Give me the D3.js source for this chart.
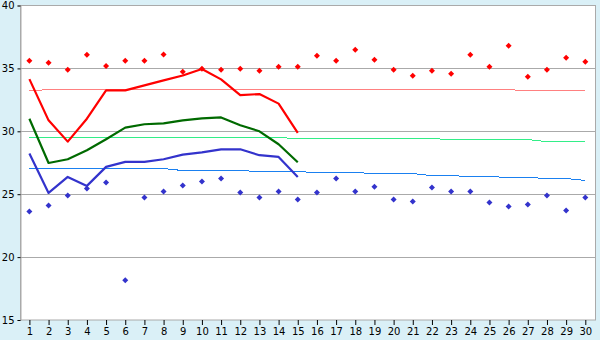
<!DOCTYPE html>
<html>
<head>
<meta charset="utf-8">
<script src="https://cdn.jsdelivr.net/npm/d3@7"></script>
<style>
  body { margin: 0; background: #daf0f7; }
  svg { display: block; }
  .tick text { font-family: "DejaVu Sans", Verdana, sans-serif; font-size: 10px; fill: #000; }
</style>
</head>
<body>
<svg id="chart" width="600" height="340"></svg>
<script>
const days = d3.range(1, 31);
const yTicks = [15, 20, 25, 30, 35, 40];

// daily maxima / minima (markers)
const maxPoints = [35.61, 35.45, 34.9, 36.09, 35.2, 35.6, 35.6, 36.1, 34.74, 34.98,
                   34.9, 34.98, 34.82, 35.13, 35.13, 36.0, 35.6, 36.48, 35.69, 34.9,
                   34.42, 34.82, 34.58, 36.09, 35.13, 36.8, 34.34, 34.9, 35.85, 35.53];
const minPoints = [23.63, 24.1, 24.9, 25.45, 25.93, 18.15, 24.74, 25.21, 25.69, 26.0,
                   26.25, 25.13, 24.74, 25.21, 24.58, 25.13, 26.25, 25.21, 25.6, 24.58,
                   24.42, 25.53, 25.21, 25.21, 24.34, 24.02, 24.18, 24.9, 23.71, 24.74];

// this month's lines (days 1-15)
const maxLine = [34.15, 30.87, 29.18, 31.0, 33.25, 33.25, 33.65, 34.05, 34.44, 34.95,
                 34.13, 32.88, 32.96, 32.2, 29.87];
const meanLine = [31.0, 27.48, 27.78, 28.49, 29.37, 30.29, 30.56, 30.63, 30.87, 31.03,
                  31.1, 30.48, 30.0, 28.97, 27.54];
const minLine = [28.23, 25.1, 26.37, 25.66, 27.17, 27.57, 27.57, 27.78, 28.15, 28.33,
                 28.57, 28.57, 28.1, 27.96, 26.37];

// normals
const normMax = [33.23, 33.31, 33.31, 33.31, 33.31, 33.31, 33.31, 33.31, 33.31, 33.31,
                 33.31, 33.31, 33.31, 33.31, 33.31, 33.31, 33.31, 33.31, 33.31, 33.31,
                 33.31, 33.31, 33.31, 33.31, 33.31, 33.31, 33.23, 33.23, 33.23, 33.23];
const normMean = [29.5, 29.5, 29.5, 29.5, 29.5, 29.5, 29.5, 29.5, 29.5, 29.5,
                  29.5, 29.5, 29.5, 29.5, 29.42, 29.42, 29.42, 29.42, 29.42, 29.42,
                  29.42, 29.42, 29.34, 29.34, 29.34, 29.34, 29.34, 29.18, 29.18, 29.18];
const normMin = [27.04, 27.04, 27.04, 27.04, 27.04, 27.04, 27.04, 27.04, 26.88, 26.88,
                 26.88, 26.88, 26.8, 26.8, 26.8, 26.72, 26.72, 26.72, 26.64, 26.64,
                 26.64, 26.48, 26.48, 26.4, 26.4, 26.33, 26.33, 26.25, 26.25, 26.09];

const svg = d3.select('#chart');
const plot = {left: 20.5, right: 595.5, top: 5.5, bottom: 320};

const x = d3.scaleLinear().domain([1, 30]).range([29.4, 585.3]);
const y = d3.scaleLinear().domain([15, 40]).range([plot.bottom, plot.top]);

svg.append('rect')
    .attr('x', plot.left).attr('y', plot.top)
    .attr('width', plot.right - plot.left).attr('height', plot.bottom - plot.top)
    .attr('fill', '#fff')
    .attr('stroke', '#aaa');

// gridlines
svg.append('g')
    .selectAll('line')
    .data(yTicks.slice(1, -1))
    .enter()
    .append('line')
        .attr('x1', plot.left).attr('x2', plot.right)
        .attr('y1', d => Math.round(y(d)) + 0.5)
        .attr('y2', d => Math.round(y(d)) + 0.5)
        .attr('stroke', '#aaa');

// axes
let yAxis = svg.append('g')
    .attr('transform', `translate(${plot.left},0)`)
    .call(d3.axisLeft(y).tickValues(yTicks).tickSize(3).tickPadding(3));
yAxis.select('.domain').attr('stroke', '#aaa');
yAxis.selectAll('.tick line').attr('stroke', '#000');

let xAxis = svg.append('g')
    .attr('transform', `translate(0,${plot.bottom})`)
    .call(d3.axisBottom(x).tickValues(days).tickFormat(d3.format('d')).tickSize(5).tickPadding(3));
xAxis.select('.domain').remove();
xAxis.selectAll('.tick line').attr('stroke', '#000');

const lineGen = d3.line()
                    .x((d, i) => x(days[i]))
                    .y(d => y(d));

const thin = [
    {data: normMax, colour: '#ff8080'},
    {data: normMean, colour: '#33ee88'},
    {data: normMin, colour: '#1a80f0'}
];
const thick = [
    {data: maxLine, colour: '#ff0000'},
    {data: meanLine, colour: '#006a00'},
    {data: minLine, colour: '#3333cc'}
];

svg.append('g')
    .selectAll('path')
    .data(thin)
    .enter()
    .append('path')
        .attr('d', d => lineGen(d.data))
        .attr('fill', 'none')
        .attr('stroke', d => d.colour)
        .attr('stroke-width', 1)
        .attr('shape-rendering', 'crispEdges');

svg.append('g')
    .selectAll('path')
    .data(thick)
    .enter()
    .append('path')
        .attr('d', d => lineGen(d.data))
        .attr('fill', 'none')
        .attr('stroke', d => d.colour)
        .attr('stroke-width', 2.2)
        .attr('stroke-linejoin', 'round');

const diamond = d3.symbol().type(d3.symbolSquare).size(18)();
const markers = [
    {data: maxPoints, colour: '#ff0000'},
    {data: minPoints, colour: '#3333cc'}
];

markers.forEach(m => {
    svg.append('g')
        .selectAll('path')
        .data(m.data)
        .enter()
        .append('path')
            .attr('d', diamond)
            .attr('transform', (d, i) => `translate(${x(days[i])},${y(d)}) rotate(45)`)
            .attr('fill', m.colour);
});
</script>
</body>
</html>
